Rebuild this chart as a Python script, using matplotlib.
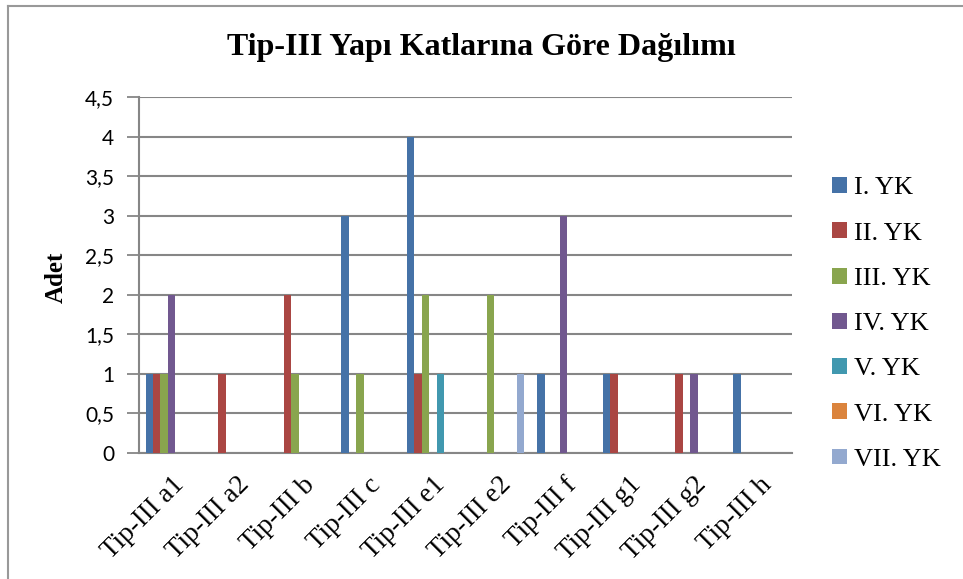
import numpy as np
import matplotlib.pyplot as plt
from matplotlib.lines import Line2D
from matplotlib.patches import Patch

# ── data ─────────────────────────────────────────────────────────────────────
categories = ["Tip-III a1", "Tip-III a2", "Tip-III b", "Tip-III c", "Tip-III e1",
              "Tip-III e2", "Tip-III f", "Tip-III g1", "Tip-III g2", "Tip-III h"]
series_names = ["I. YK", "II. YK", "III. YK", "IV. YK", "V. YK", "VI. YK", "VII. YK"]

yk1 = [1, 0, 0, 3, 4, 0, 1, 1, 0, 1]
yk2 = [1, 1, 2, 0, 1, 0, 0, 1, 1, 0]
yk3 = [1, 0, 1, 1, 2, 2, 0, 0, 0, 0]
yk4 = [2, 0, 0, 0, 0, 0, 3, 0, 1, 0]
yk5 = [0, 0, 0, 0, 1, 0, 0, 0, 0, 0]
yk6 = [0, 0, 0, 0, 0, 0, 0, 0, 0, 0]
yk7 = [0, 0, 0, 0, 0, 1, 0, 0, 0, 0]
values = [yk1, yk2, yk3, yk4, yk5, yk6, yk7]

yticks = [0, 0.5, 1, 1.5, 2, 2.5, 3, 3.5, 4, 4.5]
ytick_labels = ["0", "0,5", "1", "1,5", "2", "2,5", "3", "3,5", "4", "4,5"]

COLORS = ["#4572A7", "#AA4643", "#89A54E", "#71588F", "#4198AF", "#DB843D", "#93A9CF"]
SERIF = "Liberation Serif"
GRID = "#868686"

# ── figure ──────────────────────────────────────────────────────────────────
fig = plt.figure(figsize=(9.63, 5.79), dpi=100)
ax = fig.add_axes([139 / 963, 1 - 453 / 579, (792 - 139) / 963, (453 - 97) / 579])

x = np.arange(len(categories))
n = len(values)
w = 0.8 / n
for i, (vals, col) in enumerate(zip(values, COLORS)):
    ax.bar(x - 0.4 + w * (i + 0.5), vals, width=w, color=col, linewidth=0, zorder=3)

ax.set_xlim(-0.5, len(categories) - 0.5)
ax.set_ylim(0, 4.5)
ax.set_yticks(yticks)
ax.set_yticklabels(ytick_labels, family="Lato", fontsize=15)
ax.set_xticks(x)
ax.set_xticklabels(categories, rotation=45, ha="right", rotation_mode="anchor",
                   family=SERIF, fontsize=19.5)
ax.tick_params(axis="x", length=0, pad=14)
ax.tick_params(axis="y", direction="out", length=9, width=1.3, color=GRID, pad=9)
ax.yaxis.grid(True, color=GRID, linewidth=1.5, zorder=0)
ax.set_axisbelow(True)
for s in ["top", "right"]:
    ax.spines[s].set_visible(False)
for s in ["left", "bottom"]:
    ax.spines[s].set_color(GRID)
    ax.spines[s].set_linewidth(1.5)

fig.text(56 / 963, 1 - 277 / 579, "Adet", rotation=90, ha="center", va="center",
         family=SERIF, fontweight="bold", fontsize=18)

fig.text(0.5, 1 - 47 / 579, "Tip-III Yapı Katlarına Göre Dağılımı", ha="center", va="center",
         family=SERIF, fontweight="bold", fontsize=23)

# ── legend ─────────────────────────────────────────────────────────────────
handles = [Patch(facecolor=c, edgecolor="none", label=lab)
           for c, lab in zip(COLORS, series_names)]
fig.legend(handles=handles, loc="center left", bbox_to_anchor=(832 / 963, 1 - 324 / 579),
           frameon=False, prop={"family": SERIF, "size": 19},
           handlelength=0.55, handleheight=0.55, handletextpad=0.3,
           labelspacing=0.87, borderpad=0, borderaxespad=0)

# ── outer frame (left and top edges only visible) ─────────────────────────
fig.add_artist(Line2D([8 / 963, 8 / 963], [0, 1 - 6 / 579], color="#999999", linewidth=1.5))
fig.add_artist(Line2D([8 / 963, 1], [1 - 6 / 579, 1 - 6 / 579], color="#999999", linewidth=1.5))

fig.savefig("out.png", dpi=100)
